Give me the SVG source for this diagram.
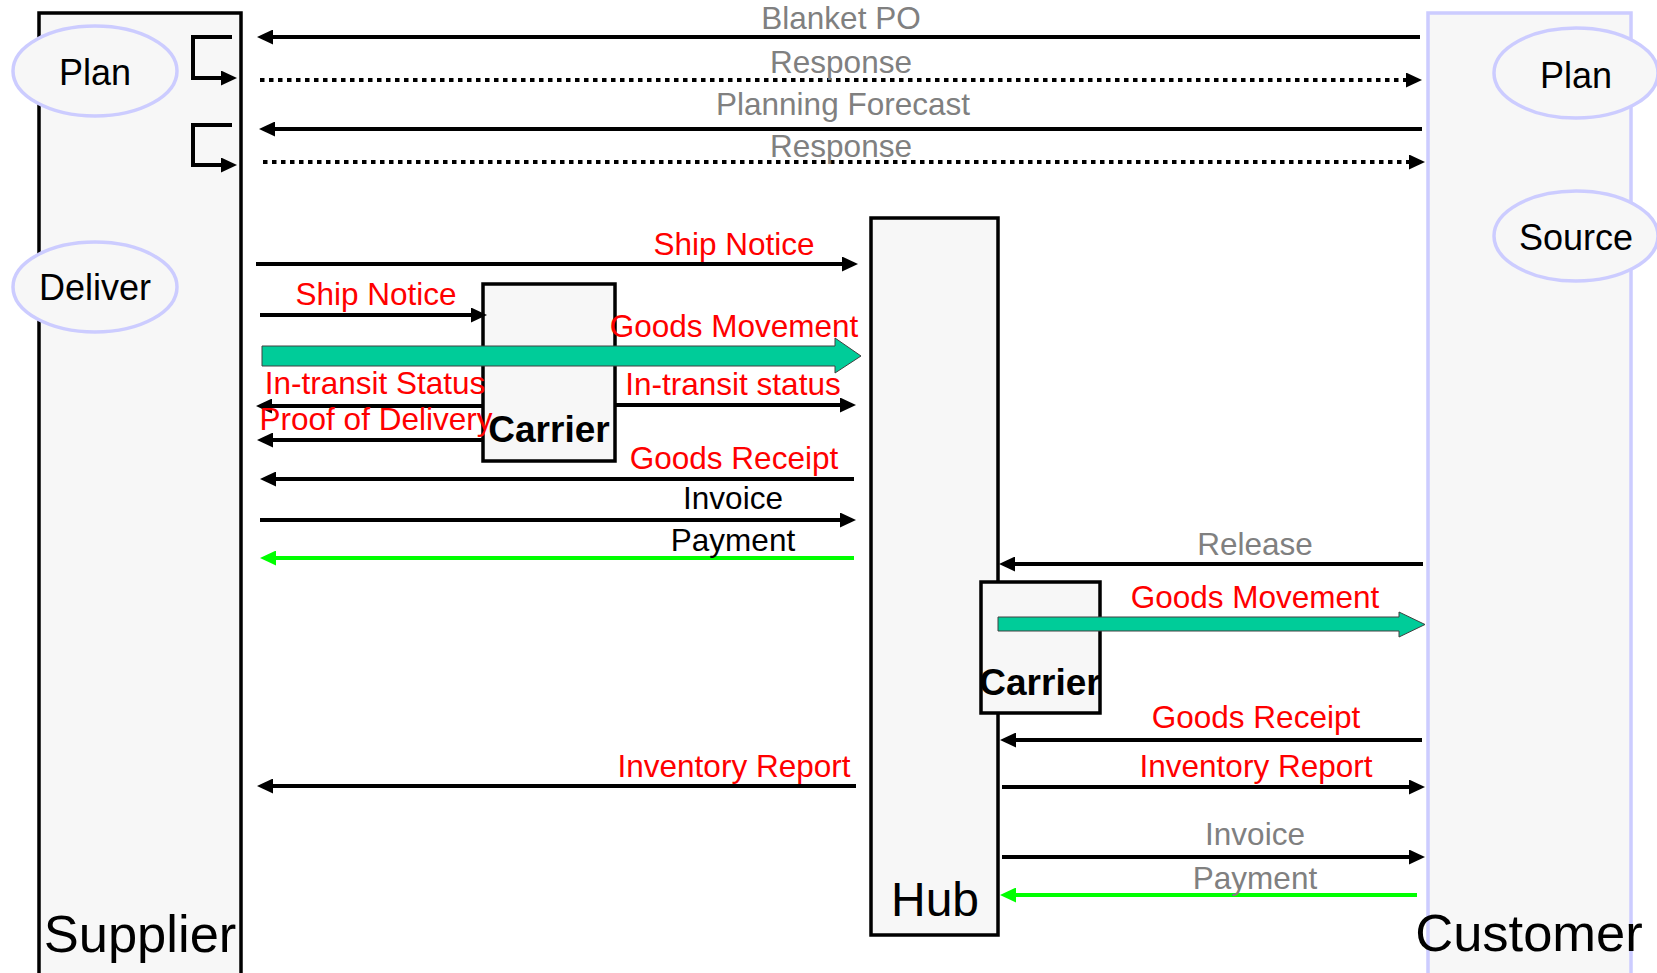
<svg xmlns="http://www.w3.org/2000/svg" width="1657" height="973" viewBox="0 0 1657 973">
<defs>
<marker id="ah" markerUnits="userSpaceOnUse" markerWidth="16" markerHeight="15" refX="2" refY="7.5" orient="auto"><path d="M0,0 L16,7.5 L0,15 Z" fill="#000"/></marker>
<marker id="ahg" markerUnits="userSpaceOnUse" markerWidth="16" markerHeight="15" refX="2" refY="7.5" orient="auto"><path d="M0,0 L16,7.5 L0,15 Z" fill="#00ff00"/></marker>
</defs>
<style>
text{font-family:"Liberation Sans",Arial,Helvetica,sans-serif}
.box{fill:#f7f7f7;stroke:#000;stroke-width:3.5}
.lbox{fill:#f7f7f7;stroke:#ccccff;stroke-width:3.5}
.ell{fill:#f7f7f7;stroke:#ccccff;stroke-width:3.5}
.ln{stroke:#000;stroke-width:4;fill:none;marker-end:url(#ah)}
.dot{stroke:#000;stroke-width:4;fill:none;stroke-dasharray:4.5 4.5;marker-end:url(#ah)}
.gln{stroke:#00ff00;stroke-width:4;fill:none;marker-end:url(#ahg)}
.band{fill:#00cc99;stroke:#404040;stroke-width:1}
.lbl{font-size:31.5px;text-anchor:middle}
.red{fill:#ff0000}
.gray{fill:#808080}
.blk{fill:#000}
.big{font-size:52.5px;text-anchor:middle;fill:#000}
.ph{font-size:36px;text-anchor:middle;fill:#000}
.car{font-size:37px;font-weight:bold;text-anchor:middle;fill:#000}
</style>
<rect width="1657" height="973" fill="#fff"/>
<g id="supplier">
<rect class="box" x="39" y="13" width="202" height="965"/>
<text class="big" x="140" y="952">Supplier</text>
</g>
<g id="customer">
<rect class="lbox" x="1428" y="13" width="203" height="965"/>
<text class="big" x="1529" y="951">Customer</text>
</g>
<g id="hub">
<rect class="box" x="871" y="218" width="127" height="717"/>
<text x="935" y="916" style="font-size:48px;text-anchor:middle;fill:#000">Hub</text>
</g>
<g id="carrier1">
<rect class="box" x="483" y="284" width="132" height="177"/>
<text class="car" x="549" y="442">Carrier</text>
</g>
<g id="carrier2">
<rect class="box" x="981" y="582" width="119" height="131"/>
<text class="car" x="1040" y="695">Carrier</text>
</g>
<g id="plan-supplier">
<ellipse class="ell" cx="95" cy="71" rx="82" ry="45"/>
<text class="ph" x="95" y="85">Plan</text>
</g>
<g id="deliver-supplier">
<ellipse class="ell" cx="95" cy="287" rx="82" ry="45"/>
<text class="ph" x="95" y="300">Deliver</text>
</g>
<g id="plan-customer">
<ellipse class="ell" cx="1576" cy="73" rx="82" ry="45"/>
<text class="ph" x="1576" y="88">Plan</text>
</g>
<g id="source-customer">
<ellipse class="ell" cx="1576" cy="236" rx="82" ry="45"/>
<text class="ph" x="1576" y="250">Source</text>
</g>
<g id="connectors">
<path class="ln" d="M232,37 H193 V78 H223"/>
<path class="ln" d="M232,125 H193 V165 H223"/>
<line class="ln" x1="1420" y1="37" x2="271" y2="37"/>
<text class="lbl gray" x="841" y="29">Blanket PO</text>
<line class="dot" x1="260" y1="80" x2="1408" y2="80"/>
<text class="lbl gray" x="841" y="73">Response</text>
<line class="ln" x1="1422" y1="129" x2="273" y2="129"/>
<text class="lbl gray" x="843" y="115">Planning Forecast</text>
<line class="dot" x1="263" y1="162" x2="1411" y2="162"/>
<text class="lbl gray" x="841" y="157">Response</text>

<line class="ln" x1="256" y1="264" x2="844" y2="264"/>
<text class="lbl red" x="734" y="255">Ship Notice</text>
<line class="ln" x1="260" y1="315" x2="473" y2="315"/>
<text class="lbl red" x="376" y="305">Ship Notice</text>
<polygon class="band" points="262,346 835,346 835,338 861,356 835,373 835,366 262,366"/>
<text class="lbl red" x="734" y="337">Goods Movement</text>
<line class="ln" x1="484" y1="406" x2="270" y2="406"/>
<text class="lbl red" x="375" y="394">In-transit Status</text>
<line class="ln" x1="615" y1="405" x2="842" y2="405"/>
<text class="lbl red" x="733" y="395">In-transit status</text>
<line class="ln" x1="484" y1="440" x2="271" y2="440"/>
<text class="lbl red" x="376" y="430">Proof of Delivery</text>
<line class="ln" x1="854" y1="479" x2="274" y2="479"/>
<text class="lbl red" x="734" y="469">Goods Receipt</text>
<line class="ln" x1="260" y1="520" x2="842" y2="520"/>
<text class="lbl blk" x="733" y="509">Invoice</text>
<line class="gln" x1="854" y1="558" x2="274" y2="558"/>
<text class="lbl blk" x="733" y="551">Payment</text>

<line class="ln" x1="1423" y1="564" x2="1013" y2="564"/>
<text class="lbl gray" x="1255" y="555">Release</text>
<polygon class="band" points="998,617 1399,617 1399,612 1425,624.5 1399,637 1399,631 998,631"/>
<text class="lbl red" x="1255" y="608">Goods Movement</text>
<line class="ln" x1="1422" y1="740" x2="1014" y2="740"/>
<text class="lbl red" x="1256" y="728">Goods Receipt</text>
<line class="ln" x1="856" y1="786" x2="271" y2="786"/>
<text class="lbl red" x="734" y="777">Inventory Report</text>
<line class="ln" x1="1002" y1="787" x2="1411" y2="787"/>
<text class="lbl red" x="1256" y="777">Inventory Report</text>
<line class="ln" x1="1002" y1="857" x2="1411" y2="857"/>
<text class="lbl gray" x="1255" y="845">Invoice</text>
<line class="gln" x1="1417" y1="895" x2="1014" y2="895"/>
<text class="lbl gray" x="1255" y="889">Payment</text>
</g>
</svg>
